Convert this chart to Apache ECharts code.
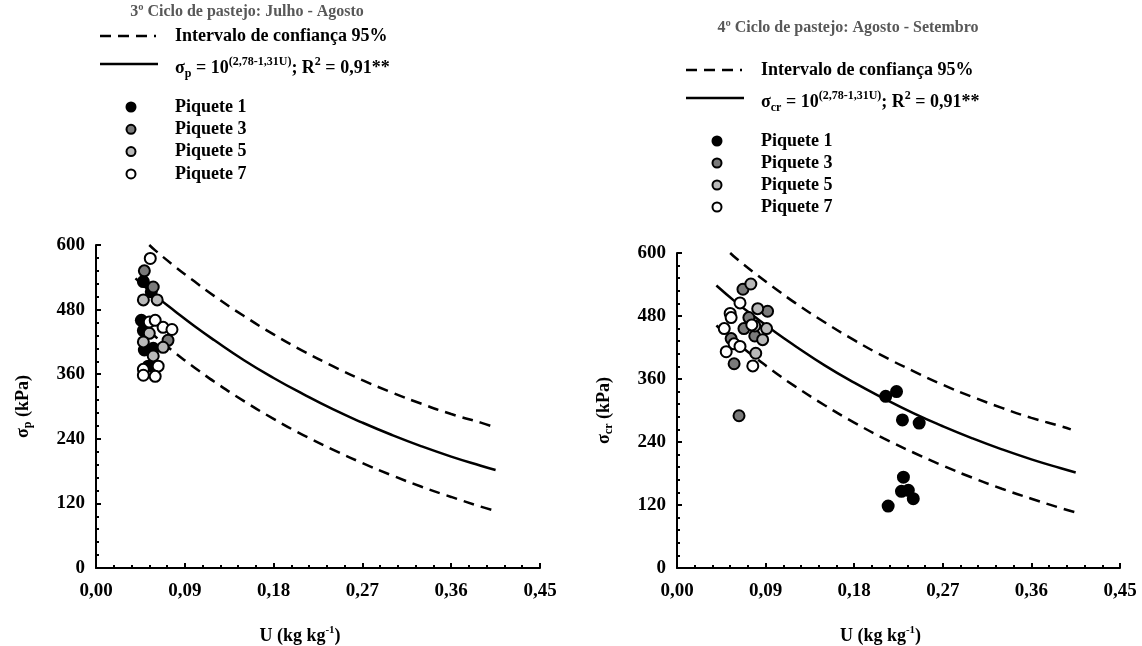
<!DOCTYPE html>
<html><head><meta charset="utf-8">
<script src="https://cdn.jsdelivr.net/npm/echarts@6/dist/echarts.min.js"></script>
<style>html,body{margin:0;padding:0;background:#fff}#c{width:1142px;height:646px}</style>
</head><body><div id="c"></div>
<script>
// ---- data ----
const xTickLabels = ['0,00', '0,09', '0,18', '0,27', '0,36', '0,45'];
const yTickLabels = ['0', '120', '240', '360', '480', '600'];

const fitU = [0.04, 0.06, 0.08, 0.10, 0.12, 0.15, 0.18, 0.21, 0.24, 0.27, 0.30, 0.33, 0.36, 0.39, 0.405];
const fitValues = [538, 506, 477, 449, 423, 386, 353, 323, 295, 270, 247, 226, 207, 190, 182];
const upperU = [0.054, 0.06, 0.08, 0.10, 0.12, 0.15, 0.18, 0.21, 0.24, 0.27, 0.30, 0.33, 0.36, 0.39, 0.40];
const upperValues = [600, 590, 560, 532, 505, 468, 434, 403, 375, 349, 326, 305, 286, 270, 264];
const lowerU = [0.04, 0.06, 0.08, 0.10, 0.12, 0.15, 0.18, 0.21, 0.24, 0.27, 0.30, 0.33, 0.36, 0.39, 0.405];
const lowerValues = [462, 430, 400, 372, 346, 310, 277, 247, 220, 195, 172, 151, 132, 114, 106];

// cycle 3 (left)
const c3_p1 = [[0.048, 532], [0.056, 513], [0.046, 460], [0.048, 441], [0.058, 408], [0.049, 405], [0.053, 375]];
const c3_p3 = [[0.049, 552], [0.058, 522], [0.073, 423]];
const c3_p5 = [[0.048, 498], [0.062, 498], [0.054, 436], [0.048, 420], [0.068, 410], [0.058, 394]];
const c3_p7 = [[0.055, 575], [0.054, 457], [0.060, 460], [0.068, 447], [0.077, 443], [0.063, 375], [0.048, 369], [0.048, 358], [0.060, 356]];

// cycle 4 (right)
const c4_p1 = [[0.212, 327], [0.223, 336], [0.229, 282], [0.246, 276], [0.230, 173], [0.228, 146], [0.235, 148], [0.240, 132], [0.2145, 118]];
const c4_p3 = [[0.067, 531], [0.092, 489], [0.073, 477], [0.068, 456], [0.079, 442], [0.055, 437], [0.058, 389], [0.063, 290]];
const c4_p5 = [[0.075, 541], [0.082, 494], [0.079, 461], [0.091, 456], [0.087, 435], [0.080, 409]];
const c4_p7 = [[0.064, 505], [0.054, 485], [0.055, 477], [0.048, 456], [0.076, 463], [0.058, 427], [0.064, 422], [0.050, 412], [0.077, 385]];

// ---- styles ----
const FONT = 'Liberation Serif';
const zip = (a, b) => a.map((u, i) => [u, b[i]]);
const markerColors = ['#000000', '#7a7a7a', '#b9b9b9', '#ffffff'];

const chart = echarts.init(document.getElementById('c'), null, {renderer: 'canvas'});

function xAxisFor(gi) {
  return {
    gridIndex: gi, type: 'value', min: 0, max: 0.45, interval: 0.09,
    name: 'U (kg kg{sup|-1}{b|)}', nameLocation: 'middle', nameGap: 57,
    nameTextStyle: {fontFamily: FONT, fontWeight: 'bold', fontSize: 18, color: '#000', padding: [0, 36, 0, 0],
      rich: {b: {fontFamily: FONT, fontWeight: 'bold', fontSize: 18, color: '#000', lineHeight: 22},
             sup: {fontFamily: FONT, fontWeight: 'bold', fontSize: 11, color: '#000', verticalAlign: 'top', lineHeight: 12}}},
    axisLine: {show: true, onZero: false, lineStyle: {color: '#000', width: 2}},
    axisTick: {show: true, inside: true, length: 5, lineStyle: {color: '#000', width: 2}},
    minorTick: {show: true, splitNumber: 5, length: 3, lineStyle: {color: '#000', width: 2}},
    splitLine: {show: false},
    axisLabel: {fontFamily: FONT, fontWeight: 'bold', fontSize: 19, color: '#000', margin: 14,
      formatter: v => xTickLabels[Math.round(v / 0.09)]}
  };
}
function yAxisFor(gi, subName) {
  return {
    gridIndex: gi, type: 'value', min: 0, max: 600, interval: 120,
    name: '{b|σ}{sub|' + subName + '}{b| (kPa)}', nameLocation: 'middle', nameGap: 62, nameRotate: 90,
    nameTextStyle: {fontFamily: FONT, fontWeight: 'bold', fontSize: 18, color: '#000',
      rich: {b: {fontFamily: FONT, fontWeight: 'bold', fontSize: 18, color: '#000', lineHeight: 22},
             sub: {fontFamily: FONT, fontWeight: 'bold', fontSize: 12, color: '#000', verticalAlign: 'bottom', lineHeight: 12}}},
    axisLine: {show: true, onZero: false, lineStyle: {color: '#000', width: 2}},
    axisTick: {show: true, inside: true, length: 5, lineStyle: {color: '#000', width: 2}},
    minorTick: {show: true, splitNumber: 5, length: 3, lineStyle: {color: '#000', width: 2}},
    splitLine: {show: false},
    axisLabel: {fontFamily: FONT, fontWeight: 'bold', fontSize: 19, color: '#000', margin: 11,
      formatter: v => yTickLabels[Math.round(v / 120)]}
  };
}
function linesFor(gi) {
  const base = {type: 'line', xAxisIndex: gi, yAxisIndex: gi, smooth: true, showSymbol: false, silent: true, z: 2};
  return [
    Object.assign({}, base, {data: zip(upperU, upperValues), lineStyle: {color: '#000', width: 2.5, type: [11, 7]}}),
    Object.assign({}, base, {data: zip(fitU, fitValues), lineStyle: {color: '#000', width: 2.5}}),
    Object.assign({}, base, {data: zip(lowerU, lowerValues), lineStyle: {color: '#000', width: 2.5, type: [11, 7]}})
  ];
}
function scattersFor(gi, groups) {
  return groups.map((g, i) => ({
    type: 'scatter', xAxisIndex: gi, yAxisIndex: gi, data: g, symbol: 'circle', symbolSize: 11, z: 3,
    itemStyle: {color: markerColors[i], borderColor: '#000', borderWidth: 2, opacity: 1}
  }));
}

function legendGraphics(ox, oy, subName, title, titleX, titleY, rowGap) {
  const txt = {fontFamily: FONT, fontWeight: 'bold', fontSize: 18, fill: '#000'};
  const rich = {
    b: {fontFamily: FONT, fontWeight: 'bold', fontSize: 18, fill: '#000', lineHeight: 24},
    sub: {fontFamily: FONT, fontWeight: 'bold', fontSize: 12, fill: '#000', verticalAlign: 'bottom', lineHeight: 12},
    sup: {fontFamily: FONT, fontWeight: 'bold', fontSize: 12, fill: '#000', verticalAlign: 'top', lineHeight: 12}
  };
  const els = [];
  els.push({type: 'text', x: titleX, y: titleY, style: {text: title, fontFamily: FONT, fontWeight: 'bold', fontSize: 16, fill: '#585858', align: 'center', verticalAlign: 'middle'}});
  els.push({type: 'line', shape: {x1: ox, y1: oy, x2: ox + 56, y2: oy}, style: {stroke: '#000', lineWidth: 2.5, lineDash: [11, 7]}});
  els.push({type: 'text', x: ox + 75, y: oy, style: Object.assign({text: 'Intervalo de confiança 95%', align: 'left', verticalAlign: 'middle'}, txt)});
  els.push({type: 'line', shape: {x1: ox, y1: oy + 28, x2: ox + 58, y2: oy + 28}, style: {stroke: '#000', lineWidth: 2.5}});
  els.push({type: 'text', x: ox + 75, y: oy + 32, style: {text: '{b|σ}{sub|' + subName + '}{b| = 10}{sup|(2,78-1,31U)}{b|; R}{sup|2}{b| = 0,91**}', align: 'left', verticalAlign: 'middle', rich: rich, fontFamily: FONT, fontSize: 18}});
  const names = ['Piquete 1', 'Piquete 3', 'Piquete 5', 'Piquete 7'];
  names.forEach((n, i) => {
    const yy = oy + 71 + i * rowGap;
    els.push({type: 'circle', shape: {cx: ox + 31, cy: yy, r: 4.5}, style: {fill: markerColors[i], stroke: '#000', lineWidth: 2}});
    els.push({type: 'text', x: ox + 75, y: yy, style: Object.assign({text: n, align: 'left', verticalAlign: 'middle'}, txt)});
  });
  return els;
}

const option = {
  backgroundColor: '#fff',
  animation: false,
  grid: [
    {left: 96, top: 245, width: 444, height: 323, containLabel: false},
    {left: 677, top: 253, width: 443, height: 318, containLabel: false}
  ],
  xAxis: [xAxisFor(0), xAxisFor(1)],
  yAxis: [yAxisFor(0, 'p'), yAxisFor(1, 'cr')],
  series: [].concat(
    linesFor(0), scattersFor(0, [c3_p1, c3_p3, c3_p5, c3_p7]),
    linesFor(1), scattersFor(1, [c4_p1, c4_p3, c4_p5, c4_p7])
  ),
  graphic: [].concat(
    legendGraphics(100, 36, 'p', '3º Ciclo de pastejo: Julho - Agosto', 247, 12, 22.3),
    legendGraphics(686, 70, 'cr', '4º Ciclo de pastejo: Agosto - Setembro', 848, 28, 22)
  )
};
chart.setOption(option);
</script></body></html>
